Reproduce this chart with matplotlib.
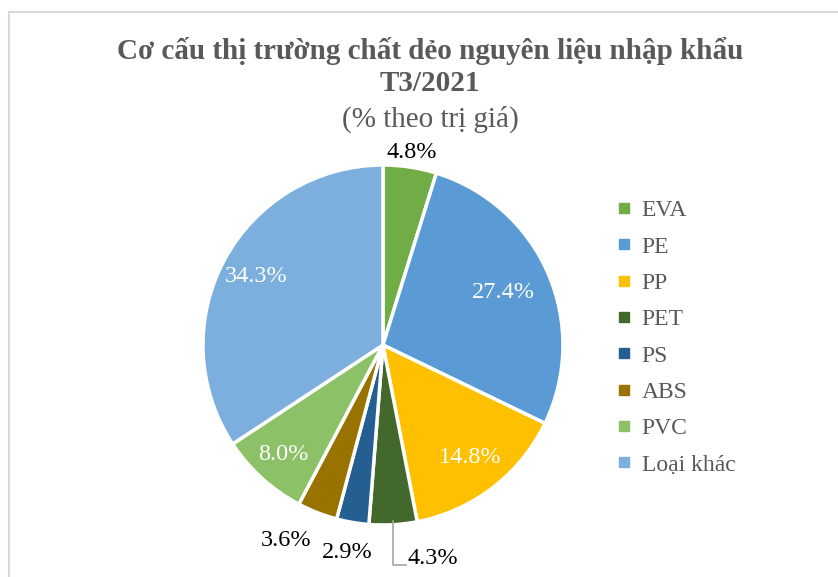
import numpy as np
import matplotlib
matplotlib.use('Agg')
import matplotlib.pyplot as plt
from matplotlib.lines import Line2D
from matplotlib.patches import Rectangle

plt.rcParams['font.family'] = ['Liberation Serif', 'DejaVu Serif']

categories = ['EVA', 'PE', 'PP', 'PET', 'PS', 'ABS', 'PVC', 'Loại khác']
values = [4.8, 27.4, 14.8, 4.3, 2.9, 3.6, 8.0, 34.3]
colors = ['#70AD47', '#5B9BD5', '#FFC000', '#43682B',
          '#255E91', '#997300', '#8CC168', '#7CAFDD']

# label placement: distance from centre (radius units), text colour
label_dist = [1.08, 0.73, 0.79, 1.22, 1.17, 1.21, 0.82, 0.80]
label_shift = [0, 0, 0, 10, 0, -5, 0, 0]  # degrees
label_col = ['black', 'white', 'white', 'black', 'black', 'black', 'white', 'white']

fig = plt.figure(figsize=(8.38, 5.77), dpi=100)
ax = fig.add_axes([0.2422, 0.0901, 0.4296, 0.6239])

wedges, _ = ax.pie(values, colors=colors, startangle=90, counterclock=False,
                   radius=1, wedgeprops=dict(edgecolor='white', linewidth=2.5))
ax.set_xlim(-1, 1)
ax.set_ylim(-1, 1)
ax.set_aspect('equal')
ax.axis('off')

for w, v, d, s, c in zip(wedges, values, label_dist, label_shift, label_col):
    ang = np.deg2rad((w.theta1 + w.theta2) / 2 + s)
    ax.text(d * np.cos(ang), d * np.sin(ang), f'{v:.1f}%', ha='center', va='center',
            fontsize=17.5, color=c, clip_on=False)

# leader line for the PET label
w = wedges[3]
ang = np.deg2rad((w.theta1 + w.theta2) / 2)
x0, y0 = 0.98 * np.cos(ang), 0.98 * np.sin(ang)
ax.plot([x0, x0, x0 + 0.07], [y0, -1.22, -1.22], color='#A6A6A6', lw=1.2, clip_on=False)

# titles
fig.text(0.513, 0.912, 'Cơ cấu thị trường chất dẻo nguyên liệu nhập khẩu',
         ha='center', va='center', fontsize=21, fontweight='bold', color='#595959')
fig.text(0.513, 0.855, 'T3/2021', ha='center', va='center', fontsize=21,
         fontweight='bold', color='#595959')
fig.text(0.513, 0.794, '(% theo trị giá)', ha='center', va='center', fontsize=21,
         color='#595959')

handles = [Line2D([], [], marker='s', linestyle='none', markersize=7,
                  markerfacecolor=c, markeredgecolor=c) for c in colors]
leg = fig.legend(handles, categories, loc='upper left', bbox_to_anchor=(0.725, 0.67),
                 frameon=False, fontsize=17, handlelength=0.6, handletextpad=0.45,
                 labelspacing=0.625, borderaxespad=0)
for t in leg.get_texts():
    t.set_color('#595959')

# chart frame (partly cut off at the right and bottom)
fig.patches.append(Rectangle((9 / 838, -0.05), 1.1, 1 - 12 / 577 + 0.05,
                             transform=fig.transFigure, fill=False,
                             edgecolor='#D9D9D9', lw=1.5))

fig.savefig('out.png', dpi=100)
